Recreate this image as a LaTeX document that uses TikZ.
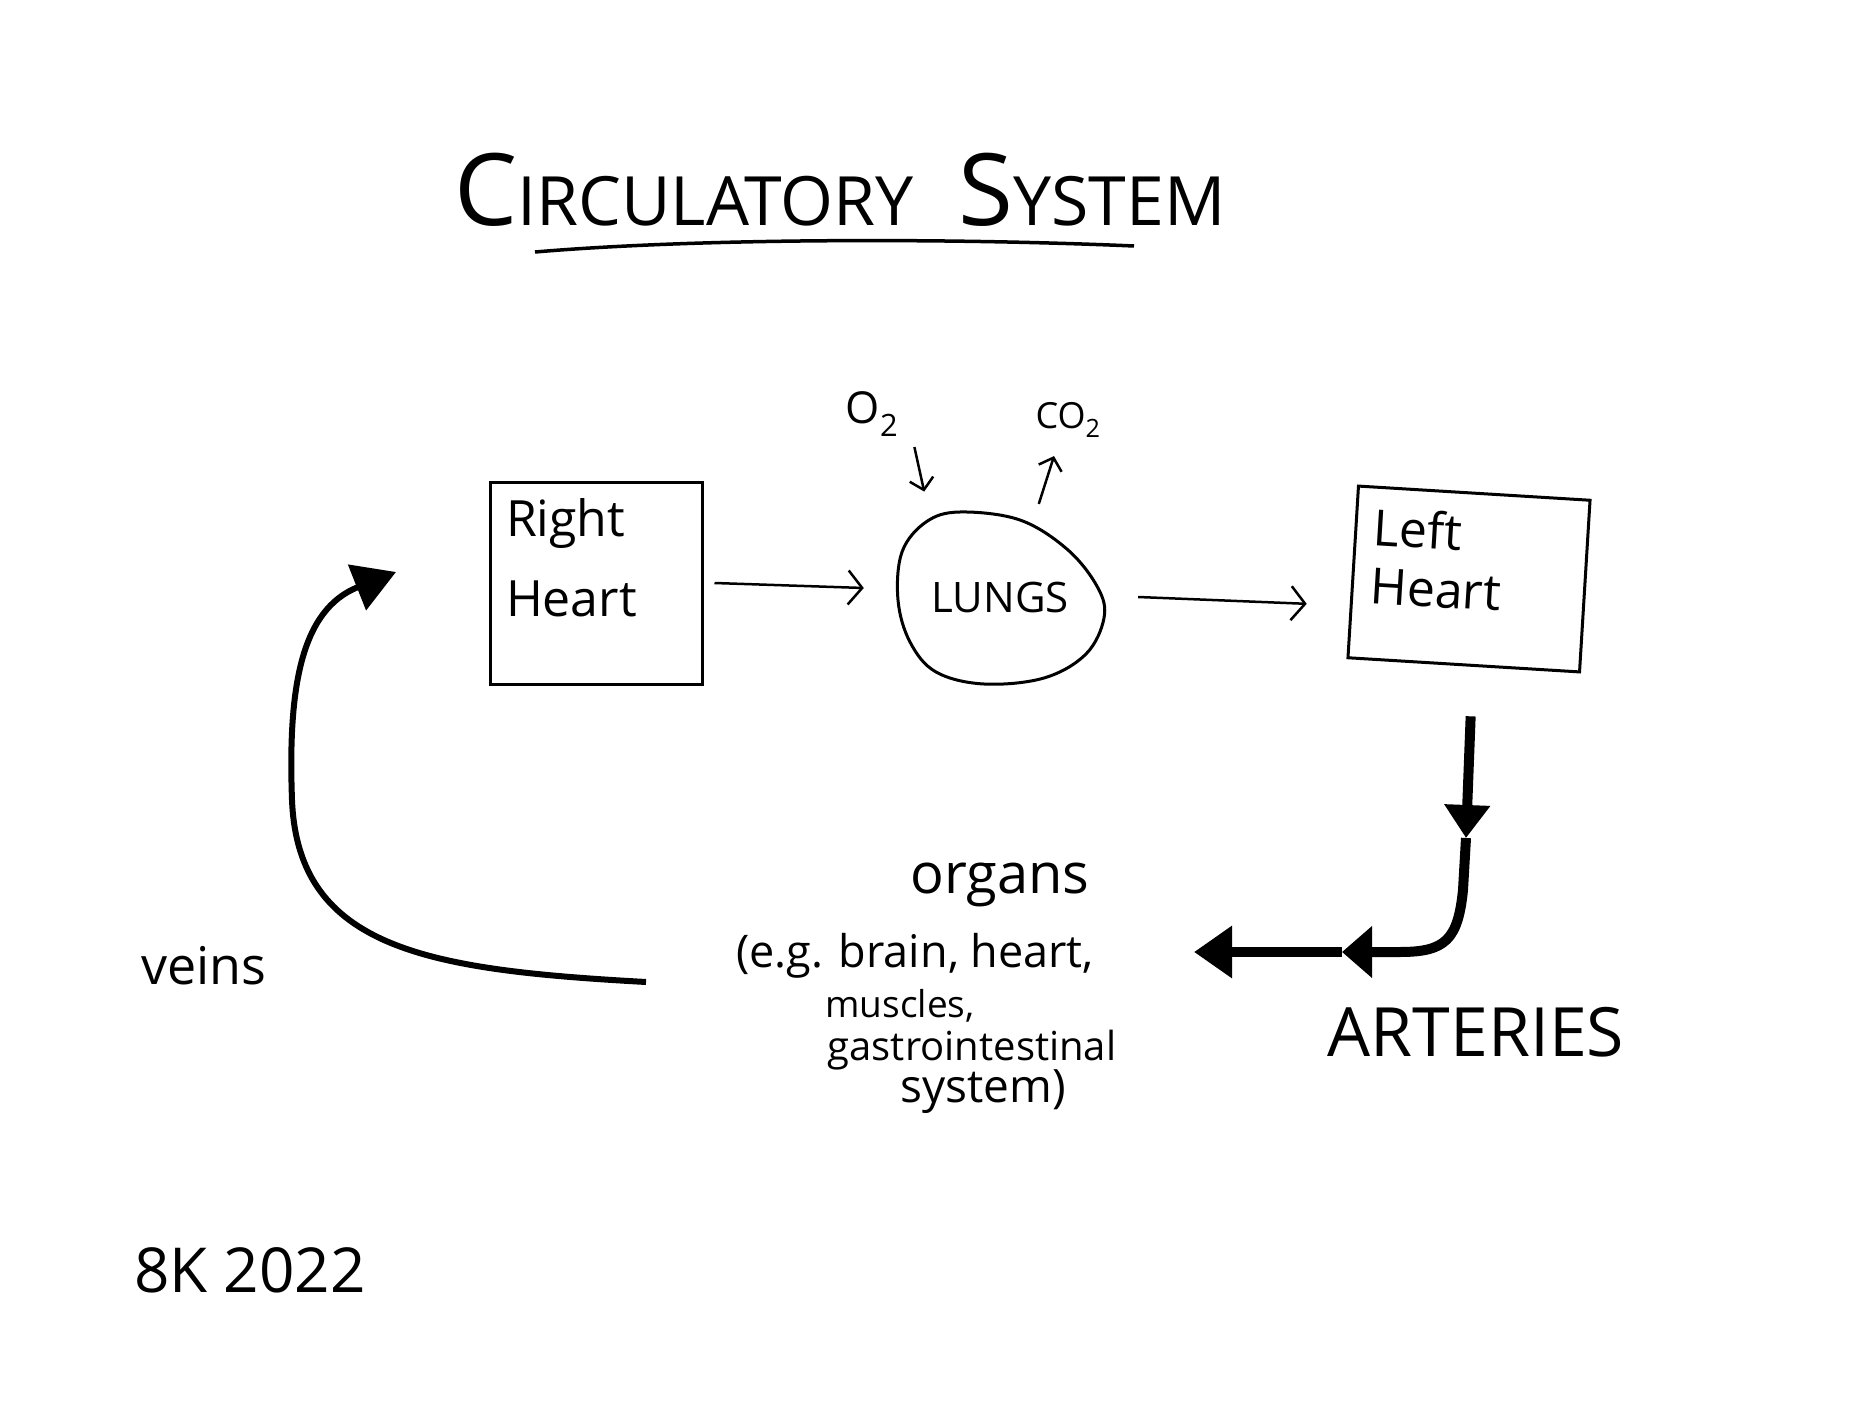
\documentclass[tikz,border=0pt]{standalone}
\usepackage{fontspec}
\setmainfont{Open Sans}
\usetikzlibrary{arrows.meta,shapes.geometric}
\newcommand\fsz[2]{\fontsize{#1}{#2}\selectfont}

\begin{document}
\begin{tikzpicture}[
  x=1pt, y=-1pt,
  every node/.style={inner sep=0pt},
  heart box/.style={
    draw, line width=3pt, align=left, inner sep=16pt,
  },
  thin arrow/.style={
    line width=2.5pt,
    -{Straight Barb[length=14pt,width=34pt,line width=2.5pt]},
  },
  small arrow/.style={
    line width=2.5pt,
    -{Straight Barb[length=11pt,width=24pt,line width=2.5pt]},
  },
  thick line/.style={
    line width=10pt,
  },
  vein line/.style={
    line width=6pt,
  }
]
\useasboundingbox (0,0) rectangle (1872,1404);

% title
\node (title) at (840,190) {\fsz{68}{68}{\fsz{100}{100}C}IRCULATORY\hspace{45pt}{\fsz{100}{100}S}YSTEM};
\draw[line width=3.5pt] (535,252) .. controls (700,238) and (950,238) .. (1134,246);

% hearts and lungs
\node[heart box, text width=180pt, minimum height=202pt, text depth=130pt, font=\fsz{50}{80}] (rh) at (596,583) {Right\\Heart};
\node[heart box, rotate=-3.5, text width=196pt, minimum height=172pt, text depth=94pt, inner xsep=18pt, font=\fsz{50}{58}] (lh) at (1469,579) {Left\\Heart};
\node[ellipse, minimum width=210pt, minimum height=174pt, font=\fsz{42}{42}] (lungs) at (1000,597) {LUNGS};
\draw[line width=3pt] plot[smooth cycle, tension=0.6] coordinates {
  (960,512) (1020,520) (1068,550) (1098,588) (1104,618) (1086,654) (1044,678)
  (984,684) (936,672) (910,642) (898,600) (902,552) (926,522)};

\node[font=\fsz{44}{44}] (o2) at (872,414) {O\textsubscript{2}};
\node[font=\fsz{36}{36}] (co2) at (1068,420) {CO\textsubscript{2}};

\draw[thin arrow] ([xshift=11pt]rh.east) -- ([xshift=-31pt,yshift=9pt]lungs.west);
\draw[thin arrow] ([xshift=33pt]lungs.east) -- ([xshift=-45pt,yshift=-32pt]lh.west);
\draw[small arrow] ([xshift=16pt,yshift=-10pt]o2.south east) -- ([xshift=-23pt,yshift=30pt]lungs.125);
\draw[small arrow] ([xshift=16pt,yshift=8pt]lungs.75) -- ([xshift=-14pt,yshift=-18pt]co2.south);

% arteries
\coordinate (a1) at (1466,838);
\coordinate (a2) at (1342,952);
\coordinate (artend) at (1194,952);
\draw[thick line, -{Triangle[length=33pt,width=44pt]}] ([xshift=7pt,yshift=-50pt]lh.south) -- (a1);
\draw[thick line, -{Triangle[length=30pt,width=50pt]}] (a1) -- (1463,890) .. controls (1458,940) and (1445,952) .. (1400,952) -- (a2);
\draw[thick line, -{Triangle[length=38pt,width=50pt]}] (a2) -- (artend);
\node[font=\fsz{68}{68}] (arteries) at (1476,1032) {ARTERIES};

% organs
\node[font=\fsz{56}{56}] (organs) at (1000,885) {organs};
\node[font=\fsz{45}{45}] (eg) at (915,956) {(e.g. brain, heart,};
\node[font=\fsz{37}{37}] (muscles) at (900,1006) {muscles,};
\node[font=\fsz{40}{40}] (gastro) at (972,1050) {gastrointestinal};
\node[font=\fsz{46}{46}] (sysline) at (983,1092) {system)};

% veins
\coordinate (veinstart) at (646,982);
\coordinate (veinend) at (396,572);
\draw[vein line, -{Triangle[length=42pt,width=48pt]}] (veinstart) .. controls (430,970) and (298,950) .. (292,800) .. controls (288,690) and (300,610) .. (veinend);
\node[font=\fsz{52}{52}] (veins) at (204,966) {veins};

\node[font=\fsz{62}{62}] (sig) at (250,1270) {8K 2022};
\end{tikzpicture}
\end{document}
